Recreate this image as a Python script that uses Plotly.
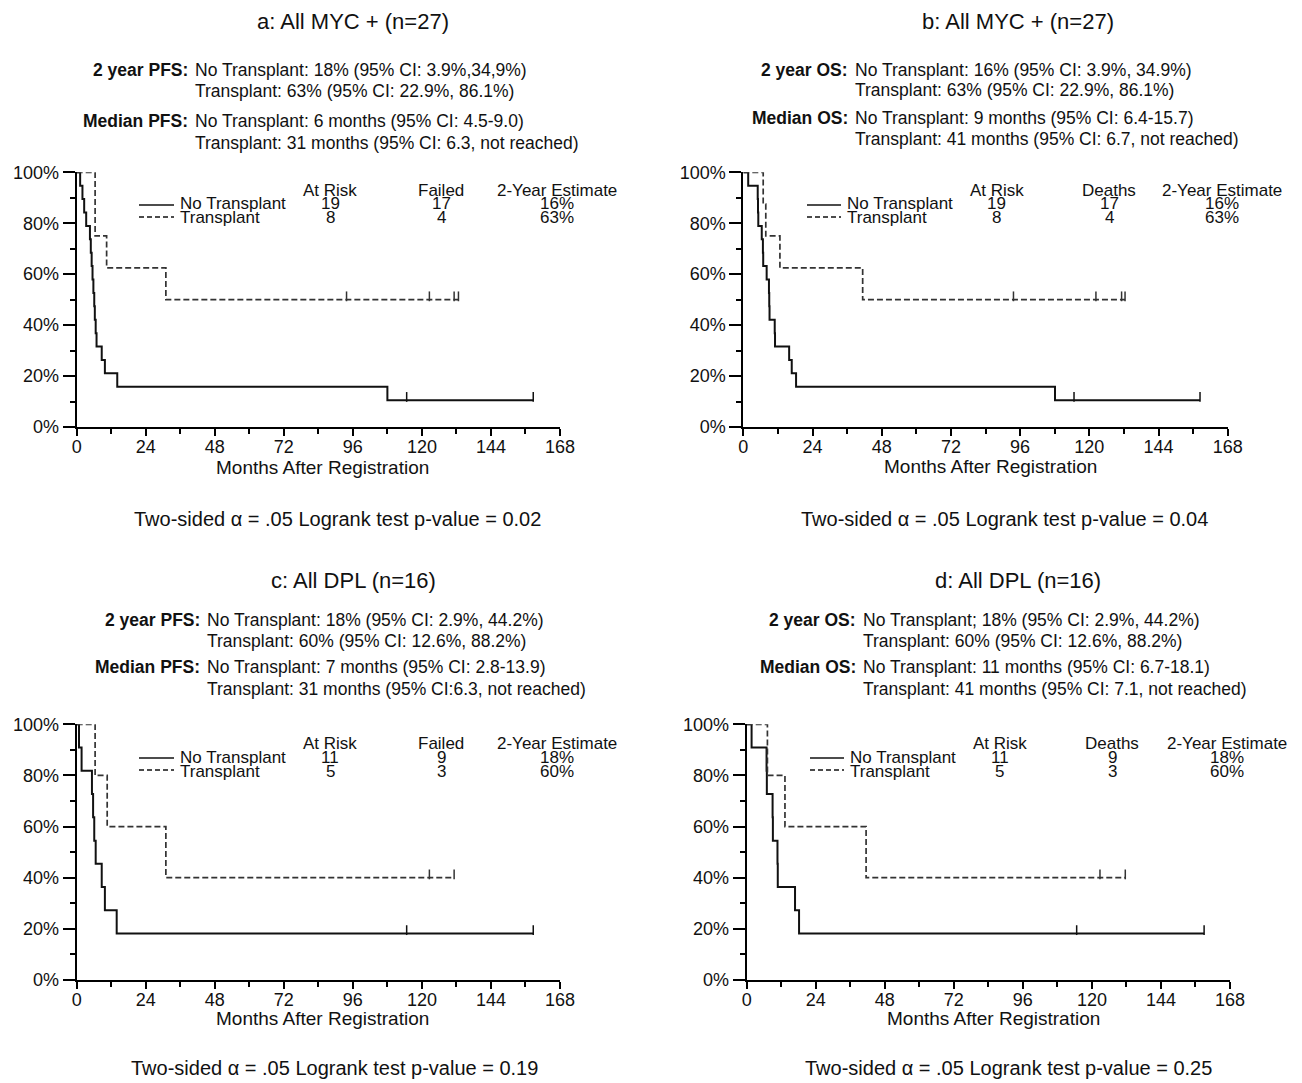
import plotly.graph_objects as go

# the page body has an 8px margin: the figure is drawn 8px smaller and all pixel positions shifted by 8
PAGE_W, PAGE_H = 1302, 1083
OFF = 8
W, H = PAGE_W - OFF, PAGE_H - OFF
FONT = "Liberation Sans, Arial, sans-serif"

# ---------------- data ----------------
# Panel a: PFS, all MYC+
a_nt_time = [0, 1.2, 2.0, 2.6, 3.3, 4.6, 4.9, 5.2, 5.5, 5.8, 6.1, 6.3, 6.6, 6.9, 8.7, 9.8, 14.1, 108.0, 158.7]
a_nt_surv = [100, 94.7, 89.5, 84.2, 78.9, 73.7, 68.4, 63.2, 57.9, 52.6, 47.4, 42.1, 36.8, 31.6, 26.3, 21.1, 15.8, 10.5, 10.5]
a_nt_cens_time = [114.7, 158.7]
a_nt_cens_surv = [10.5, 10.5]
a_t_time = [0, 6.4, 10.4, 31.0, 132.7]
a_t_surv = [100, 75.0, 62.5, 50.0, 50.0]
a_t_cens_time = [93.8, 122.6, 131.2, 132.7]
a_t_cens_surv = [50, 50, 50, 50]

# Panel b: OS, all MYC+
b_nt_time = [0, 1.7, 5.0, 5.1, 5.2, 6.4, 6.8, 6.9, 8.1, 8.9, 9.0, 9.1, 10.9, 11.0, 15.9, 16.8, 18.3, 108.1, 158.4]
b_nt_surv = [100, 94.7, 89.5, 84.2, 78.9, 73.7, 68.4, 63.2, 57.9, 52.6, 47.4, 42.1, 36.8, 31.6, 26.3, 21.1, 15.8, 10.5, 10.5]
b_nt_cens_time = [114.7, 158.4]
b_nt_cens_surv = [10.5, 10.5]
b_t_time = [0, 6.9, 7.8, 12.7, 41.4, 132.4]
b_t_surv = [100, 87.5, 75.0, 62.5, 50.0, 50.0]
b_t_cens_time = [93.7, 122.3, 131.2, 132.4]
b_t_cens_surv = [50, 50, 50, 50]

# Panel c: PFS, all DPL
c_nt_time = [0, 0.8, 1.7, 5.3, 5.7, 6.1, 6.6, 8.7, 9.8, 13.9, 158.7]
c_nt_surv = [100, 90.9, 81.8, 72.7, 63.6, 54.5, 45.5, 36.4, 27.3, 18.2, 18.2]
c_nt_cens_time = [114.7, 158.7]
c_nt_cens_surv = [18.2, 18.2]
c_t_time = [0, 6.4, 10.6, 31.0, 131.2]
c_t_surv = [100, 80.0, 60.0, 40.0, 40.0]
c_t_cens_time = [122.6, 131.2]
c_t_cens_surv = [40, 40]

# Panel d: OS, all DPL
d_nt_time = [0, 1.7, 6.9, 7.0, 9.0, 9.1, 10.7, 10.8, 16.8, 18.2, 159.0]
d_nt_surv = [100, 90.9, 81.8, 72.7, 63.6, 54.5, 45.5, 36.4, 27.3, 18.2, 18.2]
d_nt_cens_time = [114.7, 159.0]
d_nt_cens_surv = [18.2, 18.2]
d_t_time = [0, 7.2, 13.3, 41.5, 131.6]
d_t_surv = [100, 80.0, 60.0, 40.0, 40.0]
d_t_cens_time = [122.8, 131.6]
d_t_cens_surv = [40, 40]

titles = ["a: All MYC + (n=27)", "b: All MYC + (n=27)", "c: All DPL (n=16)", "d: All DPL (n=16)"]
stat_labels = [["2 year PFS:", "Median PFS:"], ["2 year OS:", "Median OS:"],
               ["2 year PFS:", "Median PFS:"], ["2 year OS:", "Median OS:"]]
stat_lines = [
    ["No Transplant: 18% (95% CI: 3.9%,34,9%)", "Transplant: 63% (95% CI: 22.9%, 86.1%)",
     "No Transplant: 6 months (95% CI: 4.5-9.0)", "Transplant: 31 months (95% CI: 6.3, not reached)"],
    ["No Transplant: 16% (95% CI: 3.9%, 34.9%)", "Transplant: 63% (95% CI: 22.9%, 86.1%)",
     "No Transplant: 9 months (95% CI: 6.4-15.7)", "Transplant: 41 months (95% CI: 6.7, not reached)"],
    ["No Transplant: 18% (95% CI: 2.9%, 44.2%)", "Transplant: 60% (95% CI: 12.6%, 88.2%)",
     "No Transplant: 7 months (95% CI: 2.8-13.9)", "Transplant: 31 months (95% CI:6.3, not reached)"],
    ["No Transplant; 18% (95% CI: 2.9%, 44.2%)", "Transplant: 60% (95% CI: 12.6%, 88.2%)",
     "No Transplant: 11 months (95% CI: 6.7-18.1)", "Transplant: 41 months (95% CI: 7.1, not reached)"],
]
event_headers = ["Failed", "Deaths", "Failed", "Deaths"]
at_risk = [[19, 8], [19, 8], [11, 5], [11, 5]]
n_events = [[17, 4], [17, 4], [9, 3], [9, 3]]
est_2yr = [["16%", "63%"], ["16%", "63%"], ["18%", "60%"], ["18%", "60%"]]
p_values = ["0.02", "0.04", "0.19", "0.25"]
group_names = ["No Transplant", "Transplant"]
x_ticks = [0, 24, 48, 72, 96, 120, 144, 168]
x_minor = [12, 36, 60, 84, 108, 132, 156]
y_ticks = [0, 20, 40, 60, 80, 100]
y_ticktext = ["0%", "20%", "40%", "60%", "80%", "100%"]
y_minor = [10, 30, 50, 70, 90]

panels = [
    (a_nt_time, a_nt_surv, a_nt_cens_time, a_nt_cens_surv, a_t_time, a_t_surv, a_t_cens_time, a_t_cens_surv),
    (b_nt_time, b_nt_surv, b_nt_cens_time, b_nt_cens_surv, b_t_time, b_t_surv, b_t_cens_time, b_t_cens_surv),
    (c_nt_time, c_nt_surv, c_nt_cens_time, c_nt_cens_surv, c_t_time, c_t_surv, c_t_cens_time, c_t_cens_surv),
    (d_nt_time, d_nt_surv, d_nt_cens_time, d_nt_cens_surv, d_t_time, d_t_surv, d_t_cens_time, d_t_cens_surv),
]

# ---------------- layout geometry (page pixels) ----------------
def X(px):
    return (px - OFF) / W

def Y(py):
    return 1 - (py - OFF) / H

# plot areas: (left, right, top, bottom) in page pixels
areas = [(76.7, 560.0, 172.3, 427.0), (743.3, 1227.7, 172.3, 427.0),
         (76.7, 560.0, 724.3, 980.0), (746.7, 1230.0, 724.3, 980.0)]
title_pos = [(353, 22), (1018, 22), (353, 580), (1018, 580)]
stat_split_x = [190, 850, 202, 858]
stat_rows_y = [[70, 91, 121, 143], [70, 90, 118, 139], [620, 641, 667, 689], [620, 641, 667, 689]]
leg_line_x = [(139, 174), (807, 841), (139, 174), (810, 844)]
col_x = [(330, 441, 557), (997, 1109, 1222), (330, 441, 557), (1000, 1112, 1227)]
leg_rows_y = [(190, 204, 218), (190, 204, 218), (743, 757, 771), (743, 757, 771)]
xlabel_pos = [(322, 467), (990, 466), (322, 1018), (993, 1018)]
pval_pos = [(337, 519), (1004, 519), (334, 1068), (1008, 1068)]

fig = go.Figure()
annotations = []
shapes = []

for i, (nt_t, nt_s, nt_ct, nt_cs, t_t, t_s, t_ct, t_cs) in enumerate(panels):
    sfx = "" if i == 0 else str(i + 1)
    xa, ya = "x" + sfx, "y" + sfx
    l, r, t, b = areas[i]
    common_x = dict(domain=[X(l), X(r)], anchor=ya, range=[0, 168], tickvals=x_ticks, automargin=False,
                    ticks="outside", ticklen=7, tickwidth=1.5, tickcolor="black", ticklabelstandoff=-5,
                    minor=dict(tickvals=x_minor, ticks="outside", ticklen=5, tickwidth=1.5, tickcolor="black"),
                    showline=True, linewidth=2, linecolor="black", showgrid=False, zeroline=False,
                    tickfont=dict(size=18, color="#111", family=FONT), fixedrange=True)
    common_y = dict(domain=[Y(b), Y(t)], anchor=xa, range=[0, 100], tickvals=y_ticks, ticktext=y_ticktext,
                    automargin=False,
                    ticks="outside", ticklen=12, tickwidth=1.5, tickcolor="black",
                    minor=dict(tickvals=y_minor, ticks="outside", ticklen=5, tickwidth=1.5, tickcolor="black"),
                    showline=True, linewidth=2, linecolor="black", showgrid=False, zeroline=False,
                    tickfont=dict(size=18, color="#111", family=FONT), fixedrange=True)
    fig.update_layout(**{("xaxis" + sfx): common_x, ("yaxis" + sfx): common_y})

    # curves
    fig.add_trace(go.Scatter(x=nt_t, y=nt_s, mode="lines", line=dict(shape="hv", color="#111", width=2),
                             xaxis=xa, yaxis=ya, showlegend=False, hoverinfo="skip"))
    fig.add_trace(go.Scatter(x=t_t, y=t_s, mode="lines",
                             line=dict(shape="hv", color="#333", width=1.7, dash="6px,3px"),
                             xaxis=xa, yaxis=ya, showlegend=False, hoverinfo="skip"))
    # censor ticks (drawn just above the curve)
    fig.add_trace(go.Scatter(x=nt_ct, y=[s + 1.3 for s in nt_cs], mode="markers",
                             marker=dict(symbol="line-ns", size=7, line=dict(width=1.5, color="#111")),
                             xaxis=xa, yaxis=ya, showlegend=False, hoverinfo="skip", cliponaxis=False))
    fig.add_trace(go.Scatter(x=t_ct, y=[s + 1.3 for s in t_cs], mode="markers",
                             marker=dict(symbol="line-ns", size=7, line=dict(width=1.5, color="#333")),
                             xaxis=xa, yaxis=ya, showlegend=False, hoverinfo="skip", cliponaxis=False))

    # title
    annotations.append(dict(text=titles[i], x=X(title_pos[i][0]), y=Y(title_pos[i][1]), xref="paper", yref="paper",
                            showarrow=False, xanchor="center", yanchor="middle",
                            font=dict(size=22, color="#111", family=FONT)))
    # stats text
    sx = stat_split_x[i]
    rows = stat_rows_y[i]
    for k, lab in enumerate(stat_labels[i]):
        annotations.append(dict(text="<b>" + lab + "</b>", x=X(sx), y=Y(rows[2 * k]), xref="paper", yref="paper",
                                showarrow=False, xanchor="right", yanchor="middle",
                                font=dict(size=17.5, color="#111", family=FONT)))
    for k, line in enumerate(stat_lines[i]):
        annotations.append(dict(text=line, x=X(sx + 3), y=Y(rows[k]), xref="paper", yref="paper",
                                showarrow=False, xanchor="left", yanchor="middle",
                                font=dict(size=17.5, color="#111", family=FONT)))
    # in-plot legend table
    lx0, lx1 = leg_line_x[i]
    hy, r1, r2 = leg_rows_y[i]
    shapes.append(dict(type="line", xref="paper", yref="paper", x0=X(lx0), x1=X(lx1), y0=Y(r1 + 1), y1=Y(r1 + 1),
                       line=dict(color="#111", width=1.3)))
    shapes.append(dict(type="line", xref="paper", yref="paper", x0=X(lx0), x1=X(lx1), y0=Y(r2 - 1), y1=Y(r2 - 1),
                       line=dict(color="#111", width=1.5, dash="5px,3px")))
    for g, ry in enumerate((r1, r2)):
        annotations.append(dict(text=group_names[g], x=X(lx1 + 4), y=Y(ry), xref="paper", yref="paper",
                                showarrow=False, xanchor="left", yanchor="middle",
                                font=dict(size=17, color="#111", family=FONT)))
    cx = col_x[i]
    headers = ["At Risk", event_headers[i], "2-Year Estimate"]
    cols = [[str(v) for v in at_risk[i]], [str(v) for v in n_events[i]], est_2yr[i]]
    for c in range(3):
        annotations.append(dict(text=headers[c], x=X(cx[c]), y=Y(hy), xref="paper", yref="paper",
                                showarrow=False, xanchor="center", yanchor="middle",
                                font=dict(size=17, color="#111", family=FONT)))
        for g, ry in enumerate((r1, r2)):
            annotations.append(dict(text=cols[c][g], x=X(cx[c]), y=Y(ry), xref="paper", yref="paper",
                                    showarrow=False, xanchor="center", yanchor="middle",
                                    font=dict(size=17, color="#111", family=FONT)))
    # axis title & p-value
    annotations.append(dict(text="Months After Registration", x=X(xlabel_pos[i][0]), y=Y(xlabel_pos[i][1]),
                            xref="paper", yref="paper", showarrow=False, xanchor="center", yanchor="middle",
                            font=dict(size=19, color="#111", family=FONT)))
    annotations.append(dict(text="Two-sided \u03b1 = .05 Logrank test p-value = " + p_values[i],
                            x=X(pval_pos[i][0]), y=Y(pval_pos[i][1]), xref="paper", yref="paper",
                            showarrow=False, xanchor="center", yanchor="middle",
                            font=dict(size=20, color="#111", family=FONT)))

fig.update_layout(width=W, height=H, margin=dict(l=0, r=0, t=0, b=0, autoexpand=False),
                  paper_bgcolor="white", plot_bgcolor="white",
                  annotations=annotations, shapes=shapes, showlegend=False,
                  font=dict(family=FONT, color="#111"))

fig.write_html("out.html", config={"displayModeBar": False})
